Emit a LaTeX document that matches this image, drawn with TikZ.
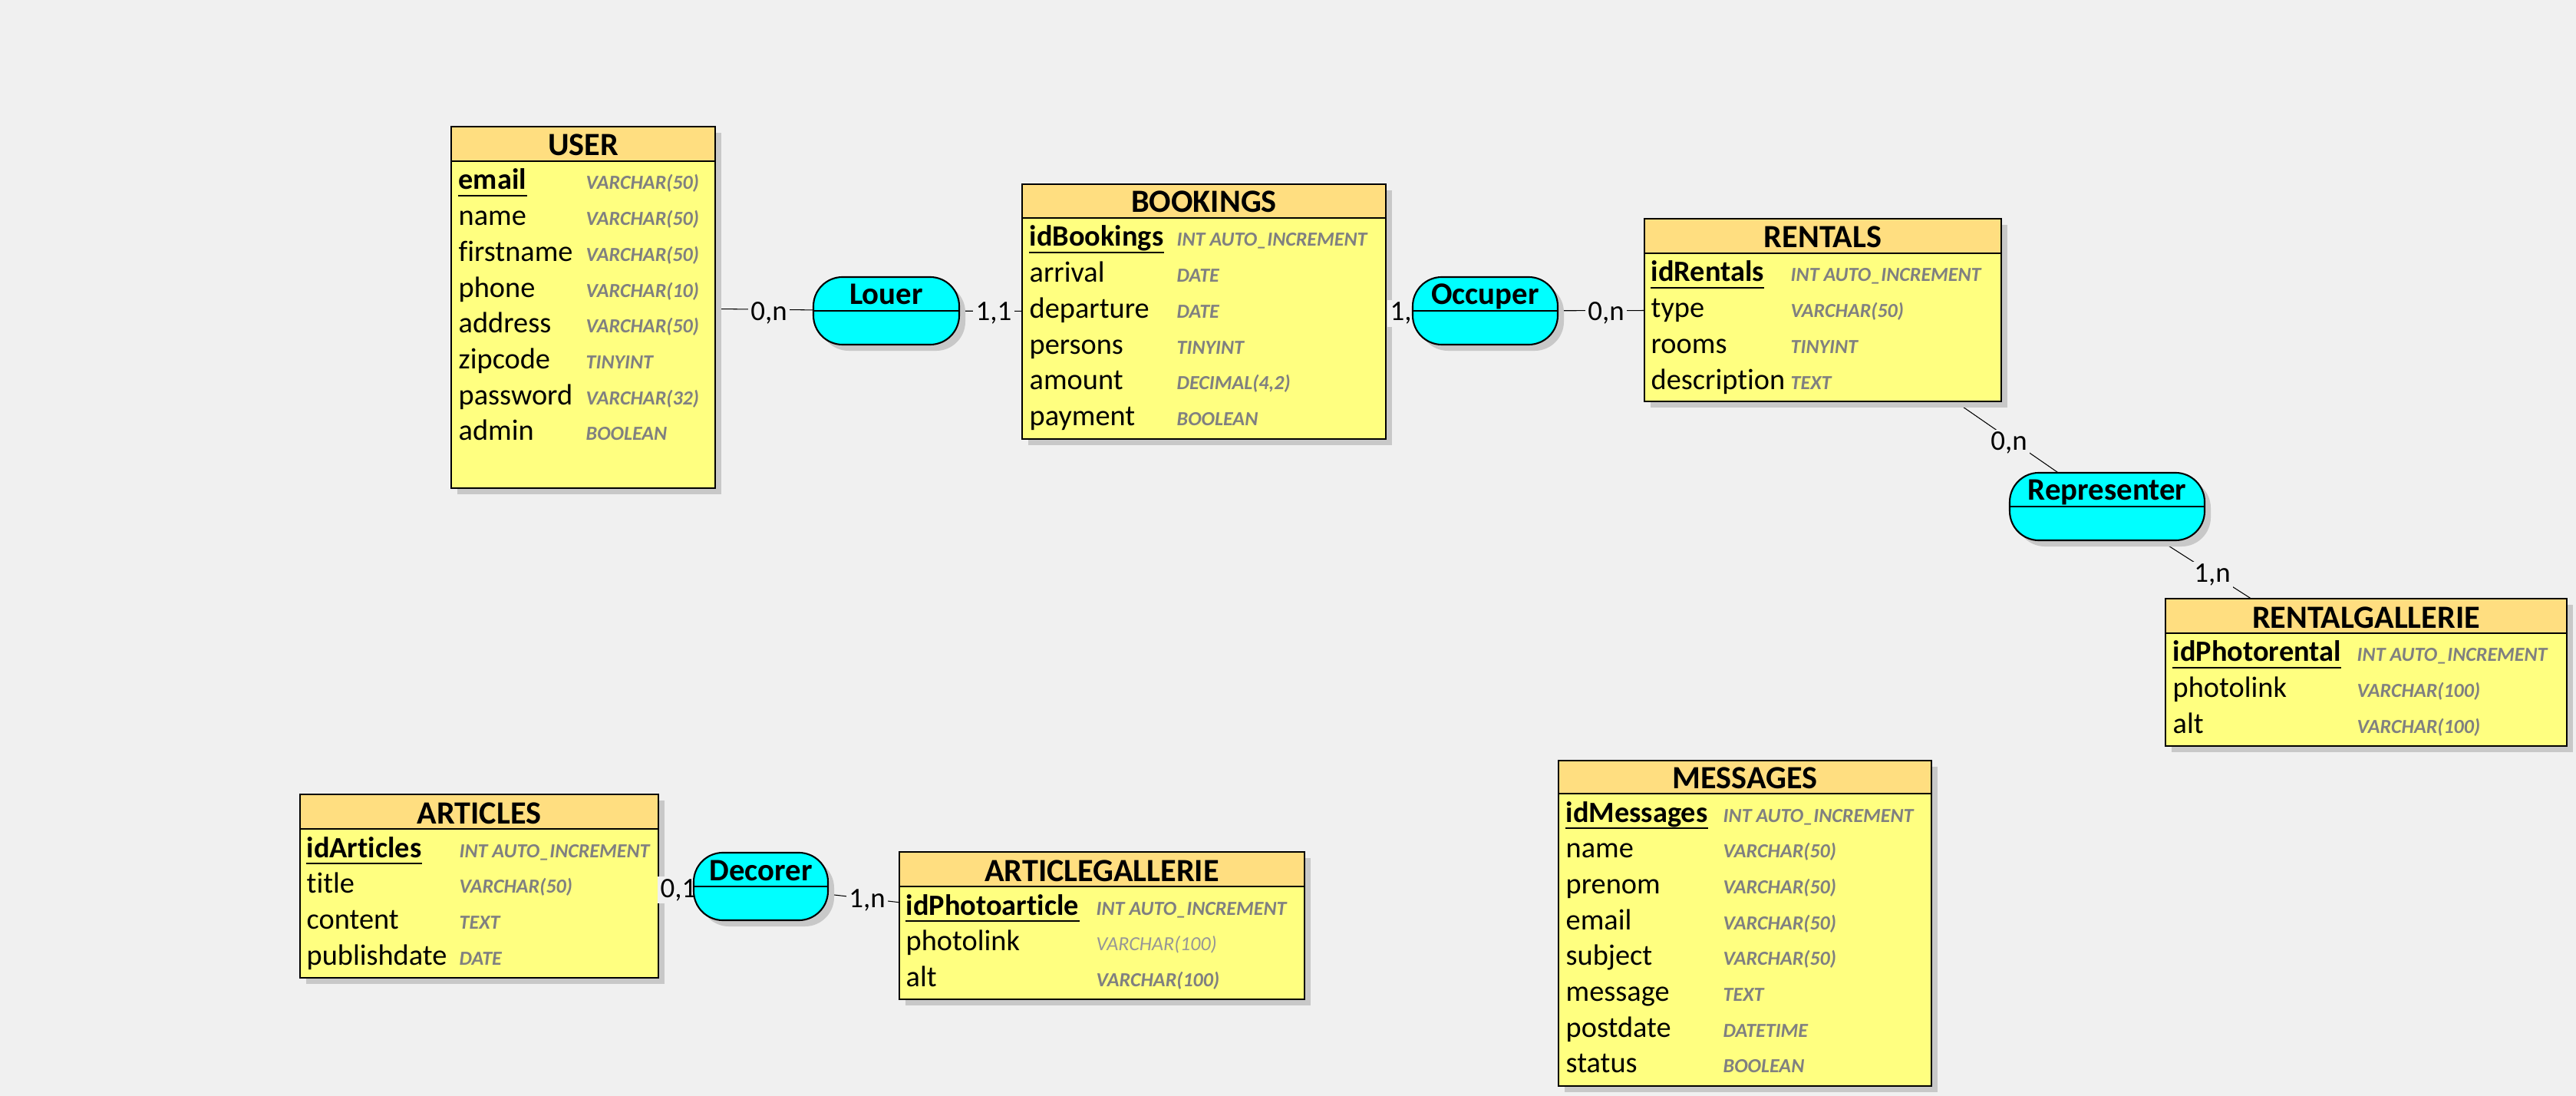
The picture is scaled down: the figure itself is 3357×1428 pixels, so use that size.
\documentclass[tikz,border=0pt]{standalone}
\usepackage{fontspec}
\setmainfont{Carlito}[Ligatures=NoCommon]
\usetikzlibrary{calc,shadows}
\definecolor{bgc}{RGB}{240,240,240}
\definecolor{headc}{RGB}{255,222,128}
\definecolor{bodyc}{RGB}{255,255,128}
\definecolor{relc}{RGB}{0,255,255}
\definecolor{typec}{RGB}{128,128,128}
\definecolor{lighttypec}{RGB}{150,150,150}
\definecolor{shadc}{RGB}{200,200,200}
\pgfdeclarelayer{bglayer}
\pgfdeclarelayer{connlayer}
\pgfdeclarelayer{rellayer}
\pgfsetlayers{bglayer,connlayer,main,rellayer}
\tikzset{
  entitybox/.style={draw, line width=0.6pt, fill=bodyc, inner sep=0pt, outer sep=0pt, anchor=north west,
    general shadow={fill=shadc, shadow xshift=0.08cm, shadow yshift=-0.08cm}},
  relbox/.style={draw, line width=0.6pt, fill=relc, rounded corners=0.38cm, inner sep=0pt, outer sep=0pt,
    minimum height=0.88cm, general shadow={fill=shadc, shadow xshift=0.08cm, shadow yshift=-0.08cm}},
  titletext/.style={font=\fontsize{12}{14}\selectfont\bfseries, inner sep=0pt, anchor=base},
  attrtext/.style={font=\fontsize{10.9}{13}\selectfont, inner sep=0pt, anchor=base west},
  keytext/.style={font=\fontsize{10.9}{13}\selectfont\bfseries, inner sep=0pt, anchor=base west},
  typetext/.style={font=\fontsize{7.4}{9}\selectfont\bfseries\itshape, text=typec, inner sep=0pt, anchor=base west},
  lighttype/.style={font=\fontsize{7.4}{9}\selectfont\itshape, text=lighttypec, inner sep=0pt, anchor=base west},
  relname/.style={font=\fontsize{11.6}{14}\selectfont\bfseries, inner sep=0pt, anchor=base},
  cardtext/.style={font=\fontsize{10.5}{12}\selectfont, fill=bgc, inner sep=1pt, anchor=base},
  conn/.style={line width=0.3pt, draw=black},
  sepline/.style={line width=0.6pt},
}
% entity: name, x, y, w, h, header height, title
\newcommand\mkentity[7]{%
  \node[entitybox, minimum width=#4*0.01cm, minimum height=#5*0.01cm] (#1) at (#2,#3) {};
  \fill[headc] (#1.north west) rectangle ($(#1.north east)+(0,#6)$);
  \draw[sepline] ($(#1.north west)+(0,#6)$) -- ($(#1.north east)+(0,#6)$);
  \draw[sepline] (#1.north west) rectangle (#1.south east);
  \node[titletext] (#1title) at ($(#1.north)+(0,#6-7)$) {#7};
}
% key row: entity, x text, x type, baseline, key, type
\newcommand\mkkey[6]{%
  \node[keytext] (#1key) at (#2,#4) {#5};
  \draw[sepline] ($(#1key.base west)+(0,8)$) -- ($(#1key.base east)+(0,8)$);
  \node[typetext] (#1keytype) at (#3,#4) {#6};
}
% other rows: entity, x text, x type, key baseline, list
\newcommand\mkrows[5]{%
  \foreach \an/\at [count=\ri from 1] in {#5} {
    \node[attrtext] (#1a\ri) at (#2,{#4+46.7*\ri}) {\an};
    \node[typetext] (#1t\ri) at (#3,{#4+46.7*\ri}) {\at};
  }
}
% relationship: name, cx, cy, width(px), label
\newcommand\mkrel[5]{%
  \node[relbox, minimum width=#4*0.01cm] (#1) at (#2,#3) {};
  \draw[sepline] (#1.west) -- (#1.east);
  \node[relname] (#1name) at ($(#1.center)+(0,-8)$) {#5};
}

\begin{document}
\begin{tikzpicture}[x=0.01cm,y=-0.01cm]
\begin{pgfonlayer}{bglayer}
  \fill[bgc] (0,0) rectangle (3357,1428);
\end{pgfonlayer}
\useasboundingbox (0,0) rectangle (3357,1428);

% USER
\mkentity{user}{588}{165}{344}{471}{45}{USER}
\mkkey{user}{597}{763}{247}{email}{VARCHAR(50)}
\mkrows{user}{597}{763}{247}{name/VARCHAR(50), firstname/VARCHAR(50), phone/VARCHAR(10), address/VARCHAR(50), zipcode/TINYINT, password/VARCHAR(32), admin/BOOLEAN}

% BOOKINGS
\mkentity{bookings}{1332}{240}{474}{332}{44}{BOOKINGS}
\mkkey{bookings}{1341}{1533}{321}{idBookings}{INT AUTO\_INCREMENT}
\mkrows{bookings}{1341}{1533}{321}{arrival/DATE, departure/DATE, persons/TINYINT, amount/DECIMAL(4{,}2), payment/BOOLEAN}

% RENTALS
\mkentity{rentals}{2143}{285}{465}{238}{45}{RENTALS}
\mkkey{rentals}{2151}{2333}{367}{idRentals}{INT AUTO\_INCREMENT}
\mkrows{rentals}{2151}{2333}{367}{type/VARCHAR(50), rooms/TINYINT, description/TEXT}

% RENTALGALLERIE
\mkentity{rgal}{2822}{780}{523}{192}{45}{RENTALGALLERIE}
\mkkey{rgal}{2831}{3071}{862}{idPhotorental}{INT AUTO\_INCREMENT}
\mkrows{rgal}{2831}{3071}{862}{photolink/VARCHAR(100), alt/VARCHAR(100)}

% ARTICLES
\mkentity{articles}{391}{1035}{467}{239}{45}{ARTICLES}
\mkkey{articles}{399}{598}{1117}{idArticles}{INT AUTO\_INCREMENT}
\mkrows{articles}{399}{598}{1117}{title/VARCHAR(50), content/TEXT, publishdate/DATE}

% ARTICLEGALLERIE
\mkentity{agal}{1172}{1110}{528}{192}{45}{ARTICLEGALLERIE}
\mkkey{agal}{1180}{1428}{1192}{idPhotoarticle}{INT AUTO\_INCREMENT}
\node[attrtext] (agala1) at (1180,{1192+46.7}) {photolink};
\node[lighttype] (agalt1) at (1428,{1192+46.7}) {VARCHAR(100)};
\node[attrtext] (agala2) at (1180,{1192+2*46.7}) {alt};
\node[typetext] (agalt2) at (1428,{1192+2*46.7}) {VARCHAR(100)};

% MESSAGES
\mkentity{messages}{2031}{991}{486}{424}{43}{MESSAGES}
\mkkey{messages}{2040}{2245}{1071}{idMessages}{INT AUTO\_INCREMENT}
\mkrows{messages}{2040}{2245}{1071}{name/VARCHAR(50), prenom/VARCHAR(50), email/VARCHAR(50), subject/VARCHAR(50), message/TEXT, postdate/DATETIME, status/BOOLEAN}

% relationships (top layer)
\begin{pgfonlayer}{rellayer}
  \mkrel{louer}{1155}{405}{190}{Louer}
  \mkrel{occuper}{1935.5}{405}{189}{Occuper}
  \mkrel{representer}{2746}{660}{254}{Representer}
  \mkrel{decorer}{991.5}{1155}{175}{Decorer}
\end{pgfonlayer}

% connectors
\begin{pgfonlayer}{connlayer}
  \draw[conn] (louer.center) -- (user);
  \draw[conn] (louer.center) -- (bookings);
  \draw[conn] (occuper.center) -- (bookings);
  \draw[conn] (occuper.center) -- (rentals);
  \draw[conn] (representer.center) -- (rentals);
  \draw[conn] (representer.center) -- (rgal);
  \draw[conn] (decorer.center) -- (articles);
  \draw[conn] (decorer.center) -- (agal);
\end{pgfonlayer}

% cardinalities
\node[cardtext] (c1) at (1002,418) {0,n};
\node[cardtext] (c2) at (1295,418) {1,1};
\node[cardtext] (c3) at (1835,418) {1,1};
\node[cardtext] (c4) at (2093,418) {0,n};
\node[cardtext] (c5) at (2618,587) {0,n};
\node[cardtext] (c6) at (2883,759) {1,n};
\node[cardtext] (c7) at (884,1169) {0,1};
\node[cardtext] (c8) at (1130,1182) {1,n};
\end{tikzpicture}
\end{document}
